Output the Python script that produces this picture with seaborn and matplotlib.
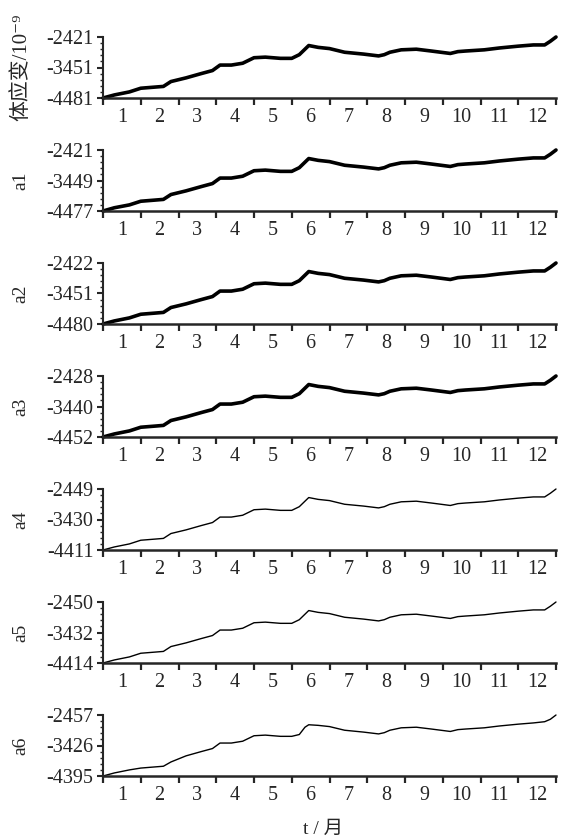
"""
Volume strain and components a1-a6 over one year, stacked panels.
"""
import matplotlib
matplotlib.use('Agg')
import matplotlib.pyplot as plt
import seaborn as sns
import pandas as pd
from matplotlib.ticker import AutoMinorLocator

# time axis (month)
t_month = [0.0, 0.3, 0.7, 1.0, 1.4, 1.6, 1.8, 2.2, 2.6, 2.9, 3.1, 3.4, 3.7, 4.0,
           4.3, 4.7, 5.0, 5.2, 5.35, 5.45, 5.7, 6.0, 6.4, 6.9, 7.3, 7.45, 7.6,
           7.9, 8.3, 8.7, 9.2, 9.4, 9.6, 10.1, 10.5, 11.0, 11.4, 11.7, 11.85, 12.0]

strain = [-4481, -4378, -4275, -4151, -4110, -4090, -3925, -3801, -3657, -3554,
          -3369, -3369, -3307, -3121, -3101, -3142, -3142, -3018, -2833, -2709,
          -2771, -2812, -2936, -2998, -3060, -3018, -2936, -2854, -2833, -2895,
          -2977, -2915, -2895, -2854, -2792, -2730, -2689, -2689, -2565, -2421]
a1 = [-4477, -4368, -4271, -4148, -4107, -4086, -3922, -3798, -3655, -3552,
      -3367, -3367, -3305, -3120, -3099, -3141, -3141, -3017, -2832, -2709,
      -2770, -2812, -2935, -2997, -3058, -3017, -2935, -2853, -2832, -2894,
      -2976, -2914, -2894, -2853, -2791, -2729, -2688, -2688, -2565, -2421]
a2 = [-4480, -4377, -4274, -4151, -4110, -4089, -3924, -3801, -3657, -3554,
      -3369, -3369, -3307, -3122, -3101, -3142, -3142, -3019, -2834, -2710,
      -2772, -2813, -2937, -2998, -3060, -3019, -2937, -2854, -2834, -2895,
      -2978, -2916, -2895, -2854, -2792, -2731, -2690, -2690, -2566, -2422]
a3 = [-4452, -4351, -4250, -4128, -4088, -4067, -3905, -3784, -3642, -3541,
      -3359, -3359, -3298, -3116, -3096, -3136, -3136, -3015, -2833, -2711,
      -2772, -2813, -2934, -2995, -3055, -3015, -2934, -2853, -2833, -2893,
      -2974, -2914, -2893, -2853, -2792, -2732, -2691, -2691, -2570, -2428]
a4 = [-4411, -4313, -4215, -4097, -4058, -4038, -3881, -3764, -3626, -3528,
      -3352, -3352, -3293, -3116, -3096, -3136, -3136, -3018, -2841, -2724,
      -2783, -2822, -2940, -2998, -3057, -3018, -2940, -2861, -2841, -2900,
      -2979, -2920, -2900, -2861, -2802, -2743, -2704, -2704, -2586, -2449]
a5 = [-4414, -4316, -4218, -4100, -4061, -4041, -3884, -3766, -3628, -3530,
      -3353, -3353, -3295, -3118, -3098, -3137, -3137, -3020, -2843, -2725,
      -2784, -2823, -2941, -3000, -3059, -3020, -2941, -2862, -2843, -2902,
      -2980, -2921, -2902, -2862, -2804, -2745, -2705, -2705, -2587, -2450]
a6 = [-4395, -4298, -4201, -4143, -4104, -4085, -3949, -3755, -3620, -3523,
      -3348, -3348, -3290, -3116, -3096, -3135, -3135, -3077, -2845, -2767,
      -2786, -2825, -2941, -3000, -3058, -3019, -2941, -2864, -2845, -2903,
      -2980, -2922, -2903, -2864, -2806, -2748, -2709, -2670, -2593, -2457]

panel_labels = ['体应变/10⁻⁹', 'a1', 'a2', 'a3', 'a4', 'a5', 'a6']
panel_series = [strain, a1, a2, a3, a4, a5, a6]
y_ticks = [[-4481, -3451, -2421], [-4477, -3449, -2421], [-4480, -3451, -2422],
           [-4452, -3440, -2428], [-4411, -3430, -2449], [-4414, -3432, -2450],
           [-4395, -3426, -2457]]
month_labels = [str(m) for m in range(1, 13)]

FONTS = ['Liberation Serif', 'Noto Sans CJK SC', 'DejaVu Sans']

sns.set_theme(style='ticks')
plt.rcParams.update({
    'figure.facecolor': 'white',
    'axes.facecolor': 'white',
    'axes.unicode_minus': False,
})
plt.rcParams['font.family'] = FONTS

W, H = 561, 839
fig = plt.figure(figsize=(W / 100, H / 100), dpi=100)

for i, (label, vals, ticks) in enumerate(zip(panel_labels, panel_series, y_ticks)):
    top = 37 + 113 * i
    ax = fig.add_axes([103 / W, 1 - (top + 61) / H, 453 / W, 61 / H])
    df = pd.DataFrame({'t': t_month, 'v': vals})
    lw = 2.6 if i < 4 else 1.0
    sns.lineplot(data=df, x='t', y='v', ax=ax, color='black', linewidth=lw,
                 clip_on=False)

    ax.set_xlim(0, 12)
    ax.set_ylim(ticks[0], ticks[2])
    ax.set_xticks(range(13))
    ax.set_xticklabels([])
    ax.set_xticks([k + 0.5 for k in range(12)], minor=True)
    ax.set_xticklabels(month_labels, minor=True, fontsize=14.5)
    ax.set_yticks(ticks)
    ax.set_yticklabels([str(v) for v in ticks], fontsize=14.5)
    ax.yaxis.set_minor_locator(AutoMinorLocator(5))

    ax.tick_params(axis='x', which='major', direction='out', length=5, width=1.6)
    ax.tick_params(axis='x', which='minor', length=0, pad=7)
    ax.tick_params(axis='y', which='major', direction='out', length=4, width=1.5,
                   pad=3)
    ax.tick_params(axis='y', which='minor', direction='out', length=2.5, width=1.0)

    sns.despine(ax=ax)
    ax.spines['left'].set_linewidth(1.5)
    ax.spines['bottom'].set_linewidth(1.8)
    ax.set_xlabel('')
    if i == 0:
        ax.set_ylabel(label, fontsize=15, labelpad=0)
        ax.yaxis.set_label_coords(-0.158, 0.5)
    else:
        ax.set_ylabel(label, fontsize=14, labelpad=0)
        ax.yaxis.set_label_coords(-0.162, 0.5)

fig.text(323 / W, 1 - 829 / H, 't / 月', ha='center', va='center', fontsize=14)

fig.savefig('out.png', dpi=100)
